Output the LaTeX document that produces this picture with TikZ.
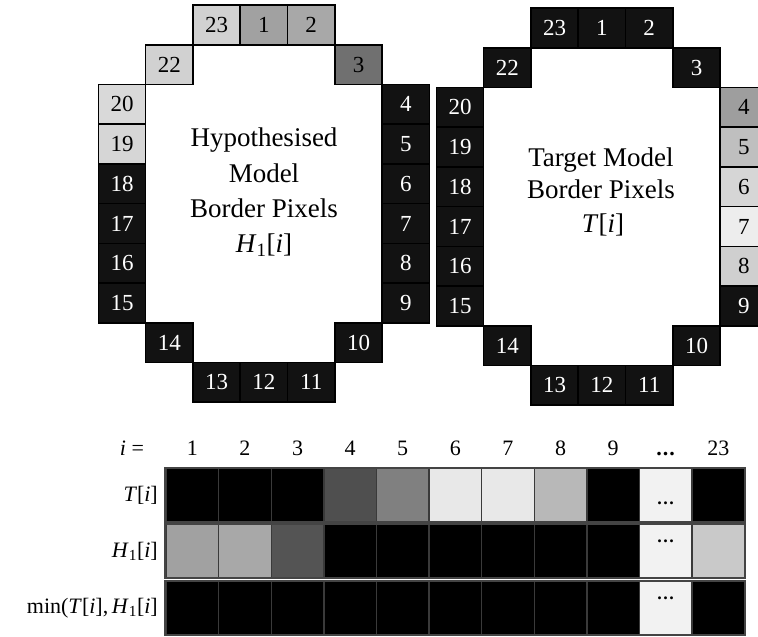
\documentclass[tikz,border=0pt]{standalone}
\usepackage{fontspec}
\setmainfont{Liberation Serif}
\definecolor{cblk}{HTML}{121212}
\definecolor{tblk}{HTML}{000000}
\definecolor{tbord}{HTML}{3A3A3A}
\definecolor{tframe}{HTML}{444444}
\definecolor{dotc}{HTML}{F2F2F2}
\begin{document}
\begin{tikzpicture}[x=1pt,y=-1pt,
  rc/.style={draw=black,line width=1.6pt,minimum width=47.3pt,minimum height=39.7pt,inner sep=0pt,font=\fontsize{23}{25}\selectfont},
  tc/.style={draw=tbord,line width=1.4pt,minimum width=52.6pt,minimum height=53pt,inner sep=0pt},
  rowframe/.style={draw=tframe,line width=2pt},
  lab/.style={font=\fontsize{22}{26}\selectfont,inner sep=0pt},
  big/.style={font=\fontsize{27}{30}\selectfont,inner sep=0pt},
  dots/.style={font=\bfseries\fontsize{18}{18}\selectfont,inner sep=0pt}]
\useasboundingbox (0,0) rectangle (758,637);
\clip (0,0) rectangle (758,637);
% ---------- left ring (hypothesised) ----------
\foreach \n/\c/\r/\f/\t in {
  23/2/0/black!18/black, 1/3/0/black!37/black, 2/4/0/black!34/black,
  22/1/1/black!18/black, 3/5/1/black!56/black,
  20/0/2/black!15/black, 19/0/3/black!16/black, 18/0/4/cblk/white,
  17/0/5/cblk/white, 16/0/6/cblk/white, 15/0/7/cblk/white,
  14/1/8/cblk/white, 13/2/9/cblk/white, 12/3/9/cblk/white,
  11/4/9/cblk/white, 10/5/8/cblk/white,
  4/6/2/cblk/white, 5/6/3/cblk/white, 6/6/4/cblk/white,
  7/6/5/cblk/white, 8/6/6/cblk/white, 9/6/7/cblk/white}{
  \node[rc,fill=\f,text=\t] (L\n) at ({122+47.3*\c},{25+39.7*\r}) {\n};
}
\node[big] (LH) at (264,140) {Hypothesised};
\node[big] (LM) at (264,173) {Model};
\node[big] (LB) at (264,208) {Border Pixels};
\node[big] (LHi) at (264,245) {\textit{H}\textsubscript{1}[\textit{i}]};
% ---------- right ring (target) ----------
\foreach \n/\c/\r/\f/\t in {
  23/2/0/cblk/white, 1/3/0/cblk/white, 2/4/0/cblk/white,
  22/1/1/cblk/white, 3/5/1/cblk/white,
  20/0/2/cblk/white, 19/0/3/cblk/white, 18/0/4/cblk/white,
  17/0/5/cblk/white, 16/0/6/cblk/white, 15/0/7/cblk/white,
  14/1/8/cblk/white, 13/2/9/cblk/white, 12/3/9/cblk/white,
  11/4/9/cblk/white, 10/5/8/cblk/white,
  4/6/2/black!38/black, 5/6/3/black!25/black, 6/6/4/black!16/black,
  7/6/5/black!7/black, 8/6/6/black!19/black, 9/6/7/cblk/white}{
  \node[rc,fill=\f,text=\t] (R\n) at ({460+47.3*\c},{28+39.7*\r}) {\n};
}
\node[big] (RT) at (601,160) {Target Model};
\node[big] (RB) at (601,189) {Border Pixels};
\node[big] (RTi) at (603,225) {\textit{T}[\textit{i}]};
% ---------- table ----------
\node[lab,anchor=base] (hi) at (132,455) {\textit{i} =};
\foreach \k/\s in {1/1,2/2,3/3,4/4,5/5,6/6,7/7,8/8,9/9,10/{\textbf{.\kern1pt.\kern1pt.}},11/23}{
  \node[lab,anchor=base] (h\k) at ({166+52.6*(\k-0.5)},455) {\s};
}
\foreach \k/\f in {1/tblk,2/tblk,3/tblk,4/black!69,5/black!50,6/black!9,7/black!9,8/black!28,9/tblk,10/dotc,11/tblk}{
  \node[tc,fill=\f] (T\k) at ({166+52.6*(\k-0.5)},495) {};
}
\foreach \k/\f in {1/black!37,2/black!34,3/black!67,4/tblk,5/tblk,6/tblk,7/tblk,8/tblk,9/tblk,10/dotc,11/black!21}{
  \node[tc,fill=\f] (H\k) at ({166+52.6*(\k-0.5)},551) {};
}
\foreach \k/\f in {1/tblk,2/tblk,3/tblk,4/tblk,5/tblk,6/tblk,7/tblk,8/tblk,9/tblk,10/dotc,11/tblk}{
  \node[tc,fill=\f] (M\k) at ({166+52.6*(\k-0.5)},608) {};
}
\draw[rowframe] (T1.north west) rectangle (T11.south east);
\draw[rowframe] (H1.north west) rectangle (H11.south east);
\draw[rowframe] (M1.north west) rectangle (M11.south east);
\node[dots] (dT) at (665.7,503) {.\kern1.5pt.\kern1.5pt.};
\node[dots] (dH) at (665.7,541) {.\kern1.5pt.\kern1.5pt.};
\node[dots] (dM) at (665.7,598) {.\kern1.5pt.\kern1.5pt.};
\node[lab,anchor=east] (lT) at (158,495) {\textit{T}[\textit{i}]};
\node[lab,anchor=east] (lH) at (158,551) {\textit{H}\textsubscript{1}[\textit{i}]};
\node[lab,anchor=east] (lM) at (158,608) {min(\textit{T}[\textit{i}],\,\textit{H}\textsubscript{1}[\textit{i}]};
\end{tikzpicture}
\end{document}
